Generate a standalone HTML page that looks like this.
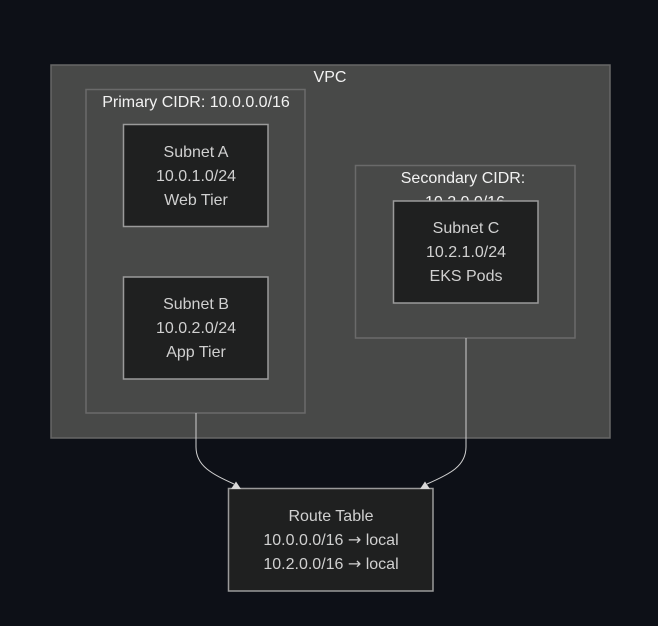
<!DOCTYPE html>
<html><head><meta charset="utf-8"><style>
html,body{margin:0;padding:0;background:#0d1017;}
svg{display:block;}
text{font-family:"Liberation Sans",sans-serif;font-size:16px;text-anchor:middle;}
.n{fill:#d0d0d0;}
.c{fill:#f2f2f2;}
.ar{font-family:"DejaVu Sans",sans-serif;}
</style></head><body>
<svg width="658" height="626" viewBox="0 0 658 626" xmlns="http://www.w3.org/2000/svg">
<rect x="0" y="0" width="658" height="626" fill="#0d1017"/>
<!-- VPC -->
<rect x="51" y="65" width="559" height="373" fill="#484948" stroke="#676767" stroke-width="1.5"/>
<text class="c" x="330" y="82">VPC</text>
<!-- Primary -->
<rect x="86" y="89.5" width="219" height="323.5" fill="#484948" stroke="#6a6a6a" stroke-width="1.5"/>
<text class="c" x="196" y="107">Primary CIDR: 10.0.0.0/16</text>
<!-- Secondary -->
<rect x="355.5" y="165.5" width="219.5" height="172.5" fill="#484948" stroke="#6a6a6a" stroke-width="1.5"/>
<text class="c" x="463" y="183">Secondary CIDR:</text>
<text class="c" x="465" y="207">10.2.0.0/16</text>
<!-- Subnet A -->
<rect x="123.5" y="124.5" width="144.5" height="102" fill="#1f2020" stroke="#9a9a9a" stroke-width="1.5"/>
<text class="n" x="196" y="157">Subnet A</text>
<text class="n" x="196" y="181">10.0.1.0/24</text>
<text class="n" x="196" y="205">Web Tier</text>
<!-- Subnet B -->
<rect x="123.5" y="277" width="144.5" height="102" fill="#1f2020" stroke="#9a9a9a" stroke-width="1.5"/>
<text class="n" x="196" y="309">Subnet B</text>
<text class="n" x="196" y="333">10.0.2.0/24</text>
<text class="n" x="196" y="357">App Tier</text>
<!-- Subnet C -->
<rect x="393.5" y="201" width="144.5" height="102" fill="#1f2020" stroke="#9a9a9a" stroke-width="1.5"/>
<text class="n" x="466" y="233">Subnet C</text>
<text class="n" x="466" y="257">10.2.1.0/24</text>
<text class="n" x="466" y="281">EKS Pods</text>
<!-- Edges -->
<path d="M196,413 L196,447 C196,466 212,474 234,484" fill="none" stroke="#d0d0d0" stroke-width="1"/>
<path d="M466,338 L466,447 C466,466 450,474 427,484" fill="none" stroke="#d0d0d0" stroke-width="1"/>
<!-- Route Table -->
<rect x="228.5" y="488.5" width="204.5" height="102.5" fill="#1f2020" stroke="#9a9a9a" stroke-width="1.5"/>
<polygon points="231,489 241,489 236,481.5" fill="#d8d8d8"/>
<polygon points="420,489 430,489 425,481.5" fill="#d8d8d8"/>
<text class="n" x="331" y="521">Route Table</text>
<text class="n" x="331" y="545">10.0.0.0/16 <tspan class="ar">→</tspan> local</text>
<text class="n" x="331" y="569">10.2.0.0/16 <tspan class="ar">→</tspan> local</text>
</svg>
</body></html>
